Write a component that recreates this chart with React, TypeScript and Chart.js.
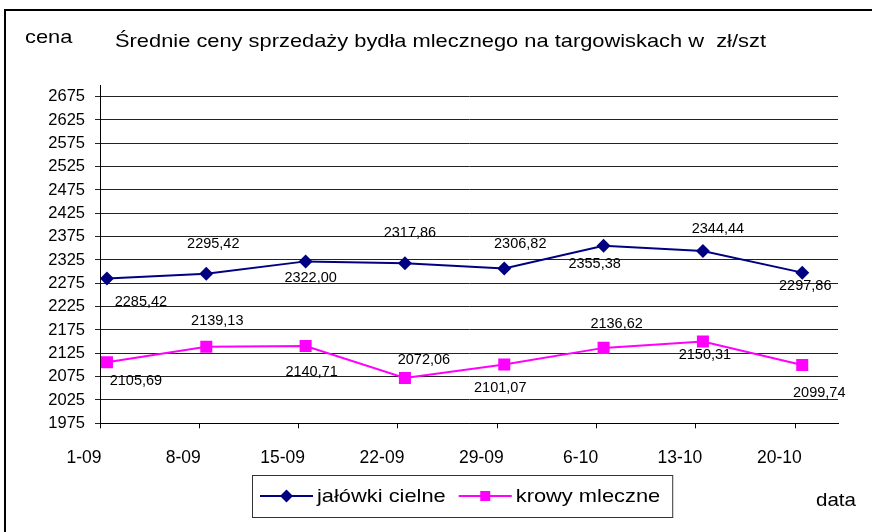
import React, { useEffect, useRef } from 'react';
import { Chart, registerables } from 'chart.js';

Chart.register(...registerables);

// ---- data ----
const categories = ['1-09', '8-09', '15-09', '22-09', '29-09', '6-10', '13-10', '20-10'];
const jalowkiCielne = [2285.42, 2295.42, 2322.0, 2317.86, 2306.82, 2355.38, 2344.44, 2297.86];
const krowyMleczne = [2105.69, 2139.13, 2140.71, 2072.06, 2101.07, 2136.62, 2150.31, 2099.74];
const yTickValues = [1975, 2025, 2075, 2125, 2175, 2225, 2275, 2325, 2375, 2425, 2475, 2525, 2575, 2625, 2675];
const seriesNames = ['jałówki cielne', 'krowy mleczne'];
const titleText = 'Średnie ceny sprzedaży bydła mlecznego na targowiskach w  zł/szt';
const yAxisTitle = 'cena';
const xAxisTitle = 'data';

// ---- layout / style (not data) ----
const FONT = "'Liberation Sans', Arial, sans-serif";
const NAVY = '#000080';
const MAGENTA = '#FF00FF';
const labelOffsets = [
  [[34, 24], [7, -30], [5, 17], [5, -30], [16, -24], [-9, 18], [15, -22], [3, 13]],
  [[29, 19], [11, -26], [6, 26], [19, -18], [-4, 24], [13, -24], [2, 14], [17, 28]],
];
const markerKinds = ['diamond', 'square'];
const colors = [NAVY, MAGENTA];
const SX = 1.15;

const fmt = (v: number) => v.toFixed(2).replace('.', ',');

function stretchedText(ctx: CanvasRenderingContext2D, text: string, x: number, y: number, size: number, sx: number) {
  ctx.save();
  ctx.font = `${size}px ${FONT}`;
  ctx.translate(x, y);
  ctx.scale(sx, 1);
  ctx.fillText(text, 0, 0);
  const w = ctx.measureText(text).width * sx;
  ctx.restore();
  return w;
}

function marker(ctx: CanvasRenderingContext2D, kind: string, x: number, y: number, color: string) {
  ctx.save();
  ctx.fillStyle = color;
  ctx.beginPath();
  if (kind === 'diamond') {
    const r = 6.5;
    ctx.moveTo(x, y - r);
    ctx.lineTo(x + r, y);
    ctx.lineTo(x, y + r);
    ctx.lineTo(x - r, y);
    ctx.closePath();
  } else {
    const h = 5;
    ctx.rect(x - h, y - h, 2 * h, 2 * h);
  }
  ctx.fill();
  ctx.restore();
}

const decorPlugin = {
  id: 'decor',
  afterDraw(chart: any) {
    const ctx: CanvasRenderingContext2D = chart.ctx;
    ctx.save();
    // outer frame
    ctx.strokeStyle = '#000';
    ctx.lineWidth = 2;
    ctx.beginPath();
    ctx.moveTo(5, 532);
    ctx.lineTo(5, 10);
    ctx.lineTo(872, 10);
    ctx.stroke();

    ctx.fillStyle = '#000';
    ctx.textAlign = 'left';
    ctx.textBaseline = 'alphabetic';
    stretchedText(ctx, yAxisTitle, 25, 43, 19, SX);
    stretchedText(ctx, titleText, 115, 47, 19, SX);
    stretchedText(ctx, xAxisTitle, 816, 506, 19, 1.08);

    // data labels
    ctx.font = `14.5px ${FONT}`;
    ctx.textAlign = 'center';
    ctx.textBaseline = 'middle';
    chart.data.datasets.forEach((ds: any, di: number) => {
      const meta = chart.getDatasetMeta(di);
      meta.data.forEach((pt: any, i: number) => {
        const off = labelOffsets[di][i];
        ctx.fillText(fmt(ds.data[i].y), pt.x + off[0], pt.y + off[1]);
      });
    });

    // legend
    const boxL = 252, boxT = 475, boxB = 517;
    const cy = 496;
    let x = 260;
    ctx.textAlign = 'left';
    ctx.textBaseline = 'middle';
    chart.data.datasets.forEach((ds: any, di: number) => {
      ctx.strokeStyle = ds.borderColor;
      ctx.lineWidth = 2;
      ctx.beginPath();
      ctx.moveTo(x, cy);
      ctx.lineTo(x + 53, cy);
      ctx.stroke();
      marker(ctx, markerKinds[di], x + 26.5, cy, ds.borderColor);
      ctx.fillStyle = '#000';
      const w = stretchedText(ctx, ds.label, x + 57, cy + 1, 19, SX);
      x = x + 57 + w + 13;
    });
    const boxR = x - 13 + 12;
    ctx.strokeStyle = '#333';
    ctx.lineWidth = 1;
    ctx.strokeRect(boxL + 0.5, boxT + 0.5, boxR - boxL, boxB - boxT);
    ctx.restore();
  },
};

export default function App() {
  const ref = useRef<HTMLCanvasElement | null>(null);
  useEffect(() => {
    if (!ref.current) return;
    const series = [jalowkiCielne, krowyMleczne];
    const chart = new Chart(ref.current, {
      type: 'line',
      data: {
        datasets: series.map((vals, di) => ({
          label: seriesNames[di],
          data: vals.map((v, i) => ({ x: i, y: v })),
          borderColor: colors[di],
          backgroundColor: colors[di],
          borderWidth: 2,
          pointStyle: di === 0 ? 'rectRot' : 'rect',
          pointRadius: di === 0 ? 7 : 8.5,
          pointBackgroundColor: colors[di],
          pointBorderColor: colors[di],
          pointBorderWidth: 0,
          tension: 0,
          fill: false,
        })),
      },
      options: {
        responsive: false,
        animation: false,
        devicePixelRatio: 1,
        layout: { padding: { top: 85, left: 0, right: 34, bottom: 0 } },
        plugins: {
          legend: { display: false },
          title: { display: false },
          tooltip: { enabled: false },
        },
        scales: {
          x: {
            type: 'linear',
            min: -0.07,
            max: 7.36,
            afterBuildTicks: (scale: any) => {
              scale.ticks = categories.map((_, i) => ({ value: i - 0.07 }));
            },
            afterFit: (scale: any) => {
              scale.height = 108.7;
            },
            grid: { drawOnChartArea: false, drawTicks: true, tickLength: 5, color: '#000' },
            border: { color: '#000', width: 1 },
            ticks: {
              autoSkip: false,
              maxRotation: 0,
              minRotation: 0,
              padding: 19,
              labelOffset: -16,
              color: '#000',
              font: { family: FONT, size: 17.5 },
              callback: (_v: any, index: number) => categories[index],
            },
          },
          y: {
            min: 1975,
            max: 2700,
            afterBuildTicks: (scale: any) => {
              scale.ticks = yTickValues.map((v) => ({ value: v }));
            },
            afterFit: (scale: any) => {
              scale.width = 100;
            },
            grid: { color: '#222', tickLength: 5, drawTicks: true },
            border: { color: '#000', width: 1 },
            ticks: {
              padding: 10,
              color: '#000',
              font: { family: FONT, size: 16.5 },
              callback: (v: any) => String(v),
            },
          },
        },
      },
      plugins: [decorPlugin],
    });
    return () => chart.destroy();
  }, []);

  return (
    <div style={{ position: 'fixed', left: 0, top: 0, width: 872, height: 532, background: '#fff' }}>
      <canvas ref={ref} width={872} height={532} style={{ display: 'block' }} />
    </div>
  );
}
